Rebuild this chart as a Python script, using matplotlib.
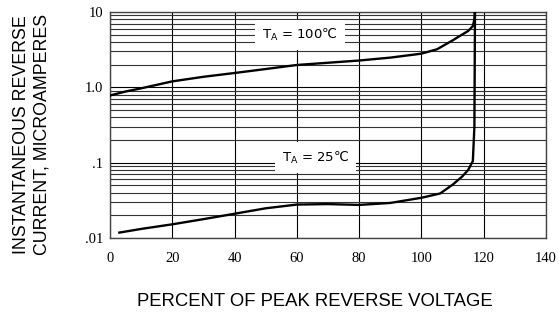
import numpy as np
import matplotlib.pyplot as plt
from matplotlib.ticker import FixedLocator, LogLocator, NullFormatter

# percent of peak reverse voltage vs reverse current (uA)
x_100 = [0, 5, 10, 20, 30, 40, 50, 60, 70, 80, 90, 100, 105, 110, 113, 115, 116.5, 117.0, 117.2]
i_100 = [0.78, 0.88, 0.97, 1.2, 1.38, 1.55, 1.75, 1.98, 2.12, 2.27, 2.48, 2.8, 3.2, 4.2, 5.0, 5.6, 6.5, 8.0, 12.0]

x_25 = [3, 10, 20, 30, 40, 50, 60, 70, 80, 90, 100, 106, 110, 113, 115, 116.5, 117.0, 117.2]
i_25 = [0.0118, 0.0132, 0.0152, 0.0178, 0.021, 0.0248, 0.0278, 0.0282, 0.0275, 0.0292, 0.0342, 0.039, 0.051, 0.065, 0.08, 0.105, 0.3, 12.0]

x_ticks = [0, 20, 40, 60, 80, 100, 120, 140]
y_ticks = [0.01, 0.1, 1.0, 10]
y_labels = [".01", ".1", "1.0", "10"]

fig = plt.figure(figsize=(5.59, 3.14), dpi=100)
ax = fig.add_axes([0.1968, 0.242, 0.78, 0.7198])

ax.plot(x_100, i_100, color="black", lw=1.7, zorder=3)
ax.plot(x_25, i_25, color="black", lw=1.7, zorder=3)

ax.set_yscale("log")
ax.set_xlim(0, 140)
ax.set_ylim(0.01, 10)

ax.xaxis.set_major_locator(FixedLocator(x_ticks))
ax.yaxis.set_major_locator(FixedLocator(y_ticks))
ax.set_yticklabels(y_labels)
ax.yaxis.set_minor_locator(LogLocator(base=10, subs=np.arange(2, 10)))
ax.yaxis.set_minor_formatter(NullFormatter())
ax.tick_params(which="both", length=0)
ax.tick_params(axis="x", pad=10)
ax.tick_params(axis="y", pad=5)
for lab in ax.get_xticklabels() + ax.get_yticklabels():
    lab.set_fontfamily("Liberation Serif")
    lab.set_fontsize(10.5)

ax.grid(True, which="major", axis="both", color="black", lw=0.8)
ax.grid(True, which="minor", axis="y", color="#333333", lw=0.8)
for s in ax.spines.values():
    s.set_color("#444444")
    s.set_linewidth(1.0)

plt.rcParams["mathtext.fontset"] = "dejavusans"
box = dict(facecolor="white", edgecolor="none", pad=5)
ax.text(61, 4.9, "T$_\\mathsf{A}$ = 100℃", ha="center", va="center",
        fontsize=9.5, family="DejaVu Sans", bbox=box, zorder=4)
ax.text(66, 0.117, "T$_\\mathsf{A}$ = 25℃", ha="center", va="center",
        fontsize=9.5, family="DejaVu Sans", bbox=box, zorder=4)

fig.text(0.5635, 0.041, "PERCENT OF PEAK REVERSE VOLTAGE", ha="center", va="center",
         fontsize=13.3, family="Liberation Sans")
fig.text(0.057, 0.572, "INSTANTANEOUS REVERSE\nCURRENT, MICROAMPERES", ha="center", va="center",
         rotation=90, fontsize=12.8, family="Liberation Sans", linespacing=1.3)

fig.savefig("out.png", dpi=100)
